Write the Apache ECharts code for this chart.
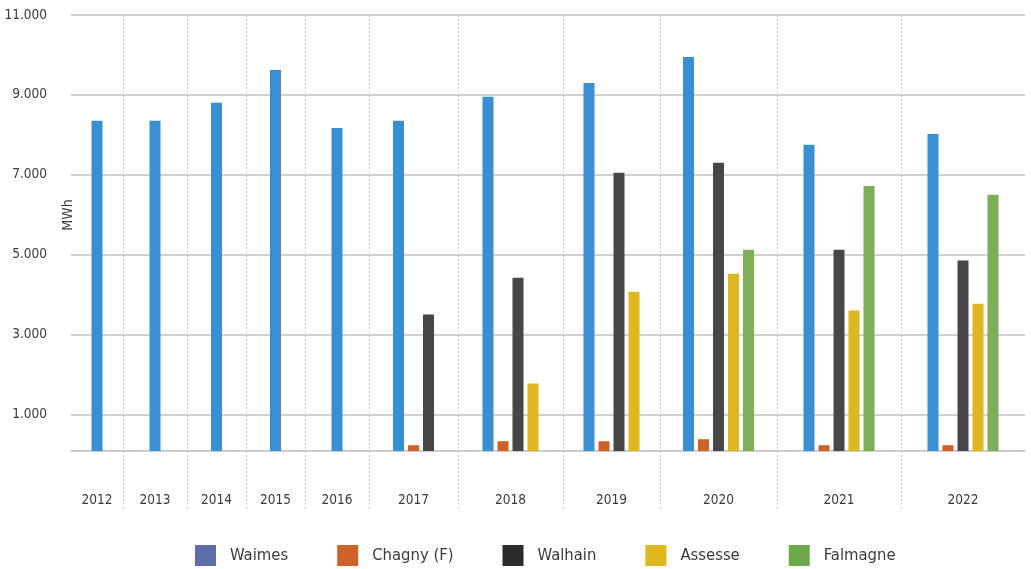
<!DOCTYPE html>
<html>
<head>
<meta charset="utf-8">
<script src="https://cdn.jsdelivr.net/npm/echarts@6/dist/echarts.min.js"></script>
<style>
  html, body { margin: 0; padding: 0; background: #fff; }
  #chart { width: 1031px; height: 569px; }
</style>
</head>
<body>
<div id="chart"></div>
<script>
var years = ['2012', '2013', '2014', '2015', '2016', '2017', '2018', '2019', '2020', '2021', '2022'];
var waimes   = [8350, 8350, 8800, 9620, 8170, 8350, 8950, 9300, 9950, 7750, 8020];
var chagny   = [null, null, null, null, null, 225, 325, 325, 375, 225, 225];
var walhain  = [null, null, null, null, null, 3500, 4420, 7050, 7300, 5120, 4850];
var assesse  = [null, null, null, null, null, null, 1770, 4070, 4520, 3600, 3770];
var falmagne = [null, null, null, null, null, null, null, null, 5120, 6720, 6500];
var yTicks = [1000, 3000, 5000, 7000, 9000, 11000];

// relative width of each year column (the source chart has uneven columns)
var yearSpan = [52, 64, 59, 59, 64, 89, 105, 97, 117, 124, 124];
var yMin = 80;
var barStep = 15;
var barWidth = 11;

var font = "'DejaVu Sans Condensed', 'Liberation Sans Narrow', sans-serif";
var textColor = '#3a3a3a';

var yearStart = [];
var total = 0;
yearSpan.forEach(function (s) {
  yearStart.push(total);
  total += s;
});
var yearCenter = yearStart.map(function (s, i) { return s + yearSpan[i] / 2; });
var boundaries = yearStart.slice(1);

var seriesDefs = [
  { name: 'Waimes', values: waimes, color: '#3a8fd4', legendColor: '#5d6cab' },
  { name: 'Chagny (F)', values: chagny, color: '#cf6228', legendColor: '#cf6228' },
  { name: 'Walhain', values: walhain, color: '#474747', legendColor: '#2b2b2b' },
  { name: 'Assesse', values: assesse, color: '#dfb721', legendColor: '#dfb721' },
  { name: 'Falmagne', values: falmagne, color: '#7caf58', legendColor: '#6ea84b' }
];

// only the sites that have a value in a year get a slot in that year
function buildData(k) {
  var out = [];
  years.forEach(function (y, i) {
    var v = seriesDefs[k].values[i];
    if (v == null) return;
    var n = 0, slot = 0;
    seriesDefs.forEach(function (d, j) {
      if (d.values[i] != null) {
        if (j < k) slot++;
        n++;
      }
    });
    out.push([i, v, slot, n]);
  });
  return out;
}

function renderBar(params, api) {
  var yi = api.value(0);
  var cx = yearCenter[yi] + (api.value(2) - (api.value(3) - 1) / 2) * barStep;
  var p1 = api.coord([cx - barWidth / 2, api.value(1)]);
  var p2 = api.coord([cx + barWidth / 2, yMin]);
  return {
    type: 'rect',
    shape: { x: p1[0], y: p1[1], width: p2[0] - p1[0], height: p2[1] - p1[1] },
    style: { fill: api.visual('color') }
  };
}

function fmtThousands(v) {
  return String(v).replace(/\B(?=(\d{3})+(?!\d))/g, '.');
}

var chart = echarts.init(document.getElementById('chart'));

var option = {
  animation: false,
  textStyle: { fontFamily: font },
  grid: { left: 71, right: 6, top: 15, bottom: 118, outerBoundsMode: 'none' },
  graphic: [{
    type: 'text',
    x: 68,
    y: 215,
    rotation: Math.PI / 2,
    style: { text: 'MWh', fill: textColor, font: '14px ' + font, align: 'center', verticalAlign: 'middle' }
  }],
  legend: {
    left: 190,
    top: 540,
    icon: 'rect',
    itemWidth: 21,
    itemHeight: 21,
    itemGap: 49,
    textStyle: { fontFamily: font, fontSize: 16.5, color: textColor, padding: [0, 0, 0, 9] },
    data: seriesDefs.map(function (d) {
      return { name: d.name, itemStyle: { color: d.legendColor } };
    })
  },
  xAxis: {
    type: 'value',
    min: 0,
    max: total,
    axisLine: { show: true, lineStyle: { color: '#bdbdbd', width: 1.5 } },
    axisTick: {
      show: true,
      customValues: boundaries,
      length: 58,
      lineStyle: { color: '#b8b8b8', width: 1, type: [1.5, 2.5] }
    },
    splitLine: {
      show: true,
      lineStyle: { color: '#b8b8b8', width: 1, type: [1.5, 2.5] }
    },
    axisLabel: {
      customValues: yearCenter,
      margin: 42,
      fontSize: 13.5,
      color: textColor,
      formatter: function (v) {
        for (var i = 0; i < yearCenter.length; i++) {
          if (Math.abs(yearCenter[i] - v) < 0.01) return years[i];
        }
        return '';
      }
    }
  },
  yAxis: {
    type: 'value',
    min: yMin,
    max: 11000,
    axisLine: { show: false },
    axisTick: { show: false, customValues: yTicks },
    splitLine: { lineStyle: { color: '#c2c2c2', width: 1.5 } },
    axisLabel: {
      customValues: yTicks,
      margin: 24,
      fontSize: 13.5,
      color: textColor,
      formatter: fmtThousands
    }
  },
  series: seriesDefs.map(function (d, k) {
    return {
      name: d.name,
      type: 'custom',
      renderItem: renderBar,
      itemStyle: { color: d.color },
      encode: { x: -1, y: 1 },
      data: buildData(k)
    };
  })
};

chart.setOption(option);
</script>
</body>
</html>
